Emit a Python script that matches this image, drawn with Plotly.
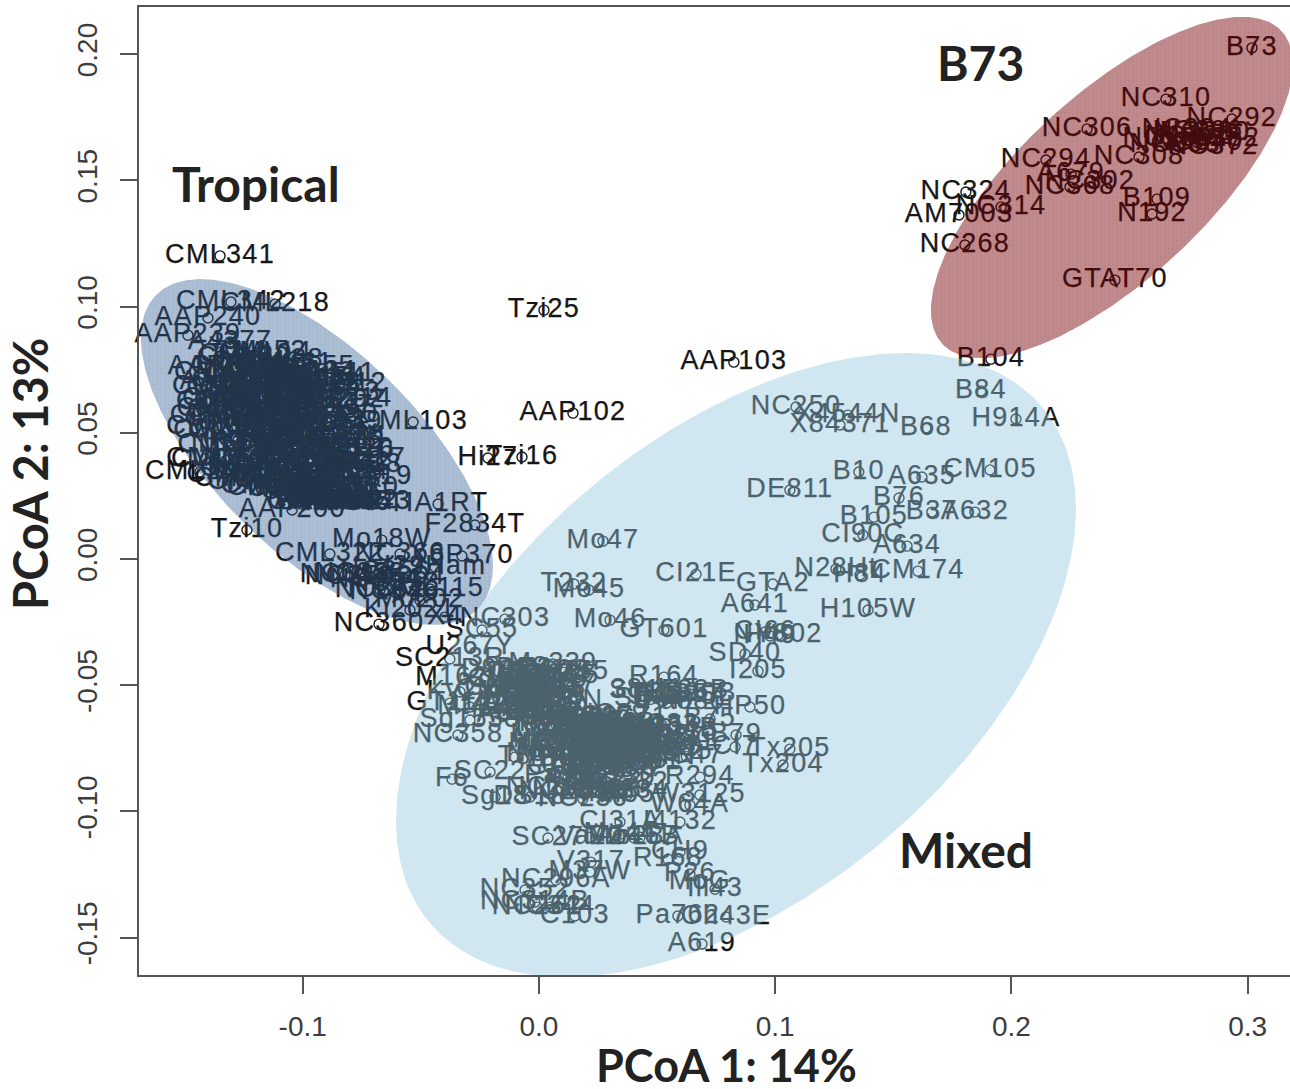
import numpy as np
import plotly.graph_objects as go

# ---------- B73 group ----------
b73_names = ["B73","NC310","NC292","NC306","NC304","NC296","NC298","NC320","NC330","NC340",
             "NC350","NC352","NC372","NC308","NC294","A679","NC302","NC368","NC324","NC314",
             "AM7003","NC268","B109","N192","GTAT70"]
b73_x = [.3018,.2654,.2933,.2320,.2743,.2790,.2662,.2756,.2819,.2789,
         .2692,.2861,.2853,.2540,.2146,.2252,.2332,.2248,.1807,.1956,
         .1778,.1803,.2616,.2595,.2438]
b73_y = [.2025,.1822,.1743,.1704,.1700,.1692,.1664,.1672,.1688,.1648,
         .1640,.1664,.1632,.1593,.1581,.1525,.1494,.1474,.1454,.1395,
         .1363,.1244,.1426,.1367,.1105]

# ---------- Tropical group: named outliers ----------
trop_names = ["CML341","CML342","CML218","AAP240","AAP239","A4377","CML52","CML555","CML15","CML25",
              "CML292","AAP5","AA15","CI1","CML2","CML38","NC1","CML3","CML247","CML103",
              "CM244","CI320","Ki22","NC34","Ki68","AAP206","NC2143","TIA1RT","Tzi10","F2834T",
              "Mo18W","CML322","NC366","X8P370","I29Ham","CML115","Mo202","Ki2021","NC360","X4",
              "NC350","NC352","NC354","NC356","NC358","NC362","NC364","NC346","NC348",
              "Hi27","Tzi16","Tzi25","AAP103","AAP102"]
trop_x = [-.1350,-.1304,-.1117,-.1401,-.1486,-.1308,-.1181,-.1012,-.0969,-.0948,
          -.0885,-.1414,-.1371,-.1363,-.1371,-.1380,-.1350,-.1414,-.1435,-.0533,
          -.0842,-.0779,-.0779,-.0792,-.0800,-.1045,-.0766,-.0427,-.1236,-.0271,
          -.0665,-.0885,-.0588,-.0326,-.0440,-.0461,-.0504,-.0546,-.0677,-.0398,
          -.0800,-.0758,-.0694,-.0652,-.0610,-.0673,-.0588,-.0610,-.0821,
          -.0216,-.0072,.0021,.0825,.0144]
trop_y = [.1201,.1018,.1010,.0955,.0887,.0860,.0820,.0761,.0713,.0681,
          .0630,.0761,.0701,.0622,.0594,.0523,.0456,.0396,.0345,.0543,
          .0483,.0436,.0384,.0345,.0285,.0194,.0226,.0218,.0115,.0135,
          .0075,.0020,.0020,.0012,-.0032,-.0119,-.0163,-.0202,-.0258,-.0230,
          -.0071,-.0060,-.0083,-.0052,-.0099,-.0123,-.0071,-.0131,-.0063,
          .0400,.0404,.0986,.0780,.0578]

# ---------- Tropical group: dense core ----------
core_t_names = ["CML5","CML10","CML11","CML14","CML28","CML31","CML38","CML45","CML49","CML61",
                "CML69","CML77","CML91","CML108","CML114","CML134","CML154","CML157","CML158","CML176",
                "CML179","CML220","CML228","CML238","CML254","CML258","CML261","CML264","CML269","CML277",
                "CML281","CML287","CML311","CML321","CML323","CML328","CML331","CML332","CML333","Ki3",
                "Ki11","Ki14","Ki21","Ki43","Ki44","Tzi8","Tzi9","Tzi11","Tzi18","Tzi6",
                "Tzi19","Tzi4","M37W","MEF","NC236","NC238","CH701","CML9","CML16","CML73",
                "CML92","CML122","CML139","CML147","CML163","CML190","CML205","CML225","CML239","CML246",
                "CML314","CML327","CML334","CML336","CML395","CML442","CML451","CML479","CML486","CML495",
                "Ki2","Ki8","Ki17","Ki33","Ki47","Ki61","Tzi2","Tzi12","Tzi14","Tzi21",
                "NC25","NC26","NC27","NC28","NC29","AAP31","AAP32","AAP33","AAP34","AAP35",
                "AAP36","AAP37","AAP38","AAP39","AAP41","AAP42","AAP43","AAP44","AAP45","AAP46",
                "CML501","CML502","CML503","CML504","CML505","CML506","CML507","CML508","CML509","CML510",
                "CML511","CML512","CML513","CML514","CML515","CML516","CML517","CML518","CML519","CML520"]
core_t_x = [-.1285,-.1241,-.1192,-.1158,-.1109,-.1276,-.1223,-.1174,-.1125,-.1067,
            -.1272,-.1218,-.1163,-.1114,-.1052,-.1005,-.0963,-.1261,-.1207,-.1147,
            -.1098,-.1043,-.0984,-.1279,-.1229,-.1176,-.1119,-.1061,-.1258,-.1203,
            -.1154,-.1092,-.1032,-.1268,-.1214,-.1160,-.1105,-.1047,-.1250,-.1195,
            -.1141,-.1086,-.1029,-.1273,-.1221,-.1168,-.1112,-.1054,-.1247,-.1189,
            -.1136,-.1078,-.1019,-.1262,-.1208,-.1152,-.1096,-.1038,-.1239,-.1183,
            -.1127,-.1071,-.0992,-.0931,-.0968,-.0912,-.1011,-.0955,-.0894,-.1228,
            -.1172,-.1115,-.1058,-.0998,-.0941,-.0882,-.1003,-.0945,-.0889,-.0927,
            -.0974,-.0917,-.0859,-.0980,-.0922,-.0863,-.0906,-.0948,-.0893,-.0836,
            -.0957,-.0899,-.0842,-.0883,-.0927,-.0871,-.0818,-.0930,-.0873,-.0815,
            -.0961,-.0903,-.0848,-.0902,-.0844,-.0787,-.0932,-.0876,-.0875,-.0817,
            -.1312,-.1321,-.1304,-.1330,-.1316,-.1298,-.1325,-.1259,-.1090,-.0918,
            -.0918,-.0876,-.0902,-.0853,-.0891,-.0842,-.0795,-.0812,-.0768,-.0825]
core_t_y = [.0794,.0807,.0781,.0816,.0789,.0760,.0744,.0768,.0737,.0773,
            .0710,.0723,.0700,.0728,.0704,.0740,.0716,.0675,.0664,.0687,
            .0653,.0681,.0693,.0633,.0620,.0643,.0614,.0639,.0590,.0603,
            .0576,.0599,.0624,.0554,.0539,.0563,.0531,.0558,.0510,.0497,
            .0519,.0486,.0511,.0473,.0460,.0481,.0447,.0470,.0433,.0420,
            .0441,.0409,.0435,.0394,.0381,.0404,.0368,.0390,.0355,.0343,
            .0364,.0331,.0587,.0604,.0551,.0570,.0529,.0518,.0541,.0316,
            .0303,.0290,.0311,.0479,.0500,.0464,.0277,.0264,.0253,.0276,
            .0444,.0423,.0450,.0248,.0241,.0230,.0253,.0409,.0390,.0413,
            .0236,.0230,.0225,.0243,.0370,.0351,.0379,.0228,.0222,.0226,
            .0333,.0314,.0341,.0232,.0224,.0229,.0293,.0275,.0226,.0221,
            .0737,.0680,.0623,.0564,.0508,.0451,.0390,.0333,.0279,.0224,
            .0734,.0693,.0655,.0633,.0468,.0428,.0397,.0370,.0324,.0279]

# ---------- Mixed group: named outliers ----------
mix_names = ["B104","B84","H914A","B68","NC250","X4544N","X84371","DE811","B10","A635",
             "CM105","B76","B37","A632","B105","CI90C","A634","CM174","N28Ht","H84",
             "H105W","A641","GTA2","CI21E","Mo47","T232","Mo45","Mo46","GT601","CI66",
             "NY802","H49","SD40","I205","Mo339","Oh34","R164","CH90B","HP50","B75",
             "B79","Tx205","Tx204","R294","CI7","W3125","W64A","NC236","Sg18","F6",
             "SC22","DS18","CI31A","I4132","SC27","Va22","Ab28A","CH9","R168","V317",
             "M37W","NC296A","P26","Ill43","MoG","NC352","NC262","NC344","NC314B","C103",
             "Pa762","Oh43E","A619","NC303","SC55","U267Y","SC213R","M162W","Ky21","GT112",
             "Mt42","Sg1533","NC358","T8"]
mix_x = [.1913,.1871,.2019,.1638,.1088,.1308,.1274,.1062,.1354,.1621,
         .1909,.1524,.1663,.1845,.1418,.1371,.1558,.1604,.1257,.1359,
         .1393,.0914,.0990,.0665,.0271,.0148,.0212,.0301,.0529,.0957,
         .1012,.0978,.0872,.0927,.0059,.0068,.0529,.0639,.0893,.0724,
         .0834,.1062,.1033,.0681,.0830,.0681,.0639,.0186,-.0186,-.0368,
         -.0207,-.0038,.0343,.0597,.0038,.0216,.0428,.0597,.0546,.0220,
         .0216,.0072,.0639,.0745,.0681,-.0059,-.0008,.0047,-.0017,.0152,
         .0588,.0792,.0690,-.0144,-.0241,-.0292,-.0377,-.0313,-.0334,-.0377,
         -.0292,-.0292,-.0343,-.0102]
mix_y = [.0792,.0666,.0555,.0519,.0602,.0570,.0531,.0273,.0345,.0325,
         .0353,.0242,.0186,.0186,.0166,.0095,.0051,-.0048,-.0040,-.0063,
         -.0202,-.0182,-.0099,-.0060,.0071,-.0099,-.0123,-.0242,-.0281,-.0289,
         -.0301,-.0305,-.0376,-.0444,-.0416,-.0460,-.0468,-.0535,-.0586,-.0634,
         -.0697,-.0753,-.0816,-.0864,-.0745,-.0935,-.0975,-.0951,-.0943,-.0872,
         -.0844,-.0943,-.1042,-.1042,-.1105,-.1102,-.1102,-.1161,-.1189,-.1201,
         -.1240,-.1272,-.1248,-.1308,-.1280,-.1311,-.1379,-.1379,-.1359,-.1414,
         -.1414,-.1418,-.1525,-.0238,-.0281,-.0349,-.0396,-.0472,-.0527,-.0571,
         -.0586,-.0638,-.0697,-.0785]

# ---------- Mixed group: dense core ----------
core_m_names = ["W22","W64B","W117","W153R","W182B","Wf9","Va14","Va26","Va35","Va59",
                "Va85","Va99","Va102","Tx303","Tx601","SA24","R177","R109B","R229","Os420",
                "Oh603","Oh40B","Oh7B","Ms71","Mo1W","Mo17","Mp339","Mo24W","MS153","L317",
                "Lp5","K55","K64","K148","Ky228","I137TN","IDS28","IDS69","IDS91","Il14H",
                "H95","H99","H100","Hy","H91","GA209","F7","F44","EP1","E2558",
                "D940Y","DE1","DE2","CO106","CO109","CO125","CO255","CI28A","CI31B","CI64",
                "CI66B","CI91B","CI187","CH9B","CML52B","C49A","C123","B2","B14A","B46",
                "B52","B57","B64","B73H","B75B","A214N","A239","A272","A441","A554",
                "A556","A659","A661","A679B","A680","4226","4722","33-16","38-11","T8B",
                "Sg1533B","SC357","SD44","R4","Pa875","Pa880","Pa91","P39","Oh43","NC222",
                "NC230","NC232","NC236B","NC238B","NC250B","M14","MS1334","Mo5","Mo44","Mo46B",
                "NC33","NC34B","NC35","NC37","NC41","NC43","NC45","NC47","NC49","NC51",
                "NC53","NC55","NC57","NC59","NC61","NC63","NC65","NC67","NC69","NC71"]
core_m_x = [.0121,.0164,.0208,.0253,.0297,.0342,.0386,.0431,.0472,.0118,
            .0159,.0203,.0249,.0291,.0338,.0379,.0427,.0465,.0126,.0172,
            .0215,.0261,.0304,.0349,.0393,.0439,.0479,.0113,.0155,.0198,
            .0243,.0287,.0332,.0375,.0420,.0461,.0132,.0178,.0222,.0268,
            .0311,.0357,.0401,.0446,.0488,.0141,.0186,.0231,.0276,.0321,
            -.0142,-.0103,-.0061,-.0022,.0018,.0062,.0103,-.0131,-.0088,-.0047,
            -.0006,.0034,.0078,-.0152,-.0112,-.0073,-.0031,.0009,.0051,.0091,
            -.0124,-.0083,-.0042,.0001,.0043,.0084,-.0137,-.0096,-.0055,-.0012,
            .0026,.0069,-.0118,-.0078,-.0036,.0005,.0047,.0088,.0458,.0503,
            .0551,.0594,.0472,.0524,.0573,.0612,.0082,.0136,.0191,.0247,
            .0303,.0358,.0092,.0148,.0205,.0261,.0318,.0373,.0344,.0402,
            .0521,.0563,.0602,.0548,.0591,.0536,.0579,.0624,.0073,.0058,
            .0037,.0046,.0028,.0061,.0019,.0182,.0127,.0243,.0305,.0389]
core_m_y = [-.0650,-.0663,-.0646,-.0669,-.0655,-.0677,-.0659,-.0680,-.0666,-.0690,
            -.0699,-.0684,-.0706,-.0692,-.0711,-.0697,-.0716,-.0703,-.0729,-.0720,
            -.0739,-.0726,-.0744,-.0732,-.0750,-.0737,-.0755,-.0763,-.0757,-.0770,
            -.0761,-.0776,-.0766,-.0781,-.0772,-.0786,-.0794,-.0800,-.0789,-.0805,
            -.0796,-.0810,-.0801,-.0815,-.0806,-.0824,-.0831,-.0819,-.0836,-.0827,
            -.0440,-.0453,-.0436,-.0459,-.0444,-.0466,-.0449,-.0480,-.0489,-.0475,
            -.0495,-.0482,-.0500,-.0511,-.0520,-.0506,-.0525,-.0514,-.0530,-.0519,
            -.0546,-.0555,-.0541,-.0560,-.0549,-.0565,-.0580,-.0589,-.0576,-.0594,
            -.0583,-.0599,-.0611,-.0620,-.0606,-.0625,-.0615,-.0630,-.0520,-.0535,
            -.0524,-.0540,-.0556,-.0564,-.0549,-.0569,-.0859,-.0876,-.0866,-.0882,
            -.0870,-.0887,-.0910,-.0925,-.0916,-.0931,-.0920,-.0936,-.1090,-.1104,
            -.0659,-.0676,-.0692,-.0710,-.0729,-.0747,-.0766,-.0783,-.0656,-.0675,
            -.0697,-.0716,-.0735,-.0753,-.0772,-.0633,-.0640,-.0626,-.0620,-.0629]

# ---------- Group ellipses: centre, half extents and correlation, in data units ----------
ellipse_mixed = dict(cx=.0834, cy=-.0420, rx=.1439, ry=.1236, rho=.50)
ellipse_trop = dict(cx=-.0940, cy=.0424, rx=.0745, ry=.0685, rho=-.66)
ellipse_b73 = dict(cx=.2425, cy=.1472, rx=.0766, ry=.0676, rho=.72)

x_ticks = [-.1, 0, .1, .2, .3]
x_tick_text = ["-0.1", "0.0", "0.1", "0.2", "0.3"]
y_ticks = [-.15, -.10, -.05, 0, .05, .10, .15, .20]
y_tick_text = ["-0.15", "-0.10", "-0.05", "0.00", "0.05", "0.10", "0.15", "0.20"]

group_labels = ["Tropical", "B73", "Mixed"]
group_label_x = [-.1198, .1867, .1807]
group_label_y = [.1486, .1969, -.1149]

INK = "#161616"
TITLE_INK = "#222222"
fig = go.Figure()


def add_labels(names, xs, ys):
    fig.add_trace(go.Scatter(
        x=xs, y=ys, text=names, mode="markers+text", textposition="middle center",
        cliponaxis=False, showlegend=False, hoverinfo="text",
        marker=dict(symbol="circle-open", size=10, color=INK, line=dict(width=1.4, color=INK)),
        textfont=dict(family="Liberation Sans", size=27, color=INK)))


def add_ellipse(e, color, pattern):
    t = np.linspace(0, 2 * np.pi, 361)
    phi = np.arccos(e["rho"])
    fig.add_trace(go.Scatter(
        x=e["cx"] + e["rx"] * np.cos(t), y=e["cy"] + e["ry"] * np.cos(t - phi),
        mode="lines", line=dict(width=0), fill="toself", fillcolor=color,
        fillpattern=pattern, showlegend=False, hoverinfo="skip"))


add_labels(trop_names, trop_x, trop_y)
add_labels(core_t_names, core_t_x, core_t_y)
add_labels(mix_names, mix_x, mix_y)
add_labels(core_m_names, core_m_x, core_m_y)
add_labels(b73_names, b73_x, b73_y)

add_ellipse(ellipse_trop, "rgba(50,95,150,0.40)",
            dict(shape=".", bgcolor="rgba(50,95,150,0.40)", fgcolor="rgba(40,70,120,0.10)", size=4, solidity=0.4))
add_ellipse(ellipse_mixed, "rgba(146,198,221,0.43)", None)
add_ellipse(ellipse_b73, "rgba(117,0,5,0.45)",
            dict(shape=".", bgcolor="rgba(117,0,5,0.45)", fgcolor="rgba(90,0,5,0.10)", size=4, solidity=0.4))

for s, gx, gy in zip(group_labels, group_label_x, group_label_y):
    fig.add_annotation(x=gx, y=gy, text=f"<b>{s}</b>", showarrow=False,
                       font=dict(family="Lato", size=48, color=TITLE_INK))

# Axis titles sit off-centre in the reference, so they are placed as annotations.
fig.add_annotation(x=.0792, xref="x", y=-.0930, yref="paper", xanchor="center", yanchor="middle",
                   text="<b>PCoA 1: 14%</b>", showarrow=False,
                   font=dict(family="Lato", size=45, color=TITLE_INK))
fig.add_annotation(x=-.0947, xref="paper", y=.0337, yref="y", xanchor="center", yanchor="middle",
                   text="<b>PCoA 2: 13%</b>", showarrow=False,
                   textangle=-90, font=dict(family="Lato", size=47, color=TITLE_INK))

axis_common = dict(showgrid=False, zeroline=False, showline=True, linecolor="#555555", linewidth=2,
                   ticks="outside", ticklen=17, tickwidth=2, tickcolor="#555555",
                   tickfont=dict(family="Liberation Sans", size=28, color="#3c3c3c"))

fig.update_layout(
    width=1290, height=1089, paper_bgcolor="white", plot_bgcolor="white",
    margin=dict(l=139, r=0, t=7, b=114),
    xaxis=dict(range=[-.1693, .3179], tickmode="array", tickvals=x_ticks, ticktext=x_tick_text,
               mirror=True, ticklabelstandoff=8, **axis_common),
    yaxis=dict(range=[-.1648, .2187], tickmode="array", tickvals=y_ticks, ticktext=y_tick_text,
               tickangle=-90, ticklabelstandoff=12, **axis_common),
)

page_script = """
document.body.style.margin = '0';
var s = document.createElement('style');
s.textContent = '.textpoint text{letter-spacing:1.3px;stroke:#161616;stroke-width:.25px}';
document.head.appendChild(s);
"""
fig.write_html("out.html", post_script=page_script, config={"displayModeBar": False})
